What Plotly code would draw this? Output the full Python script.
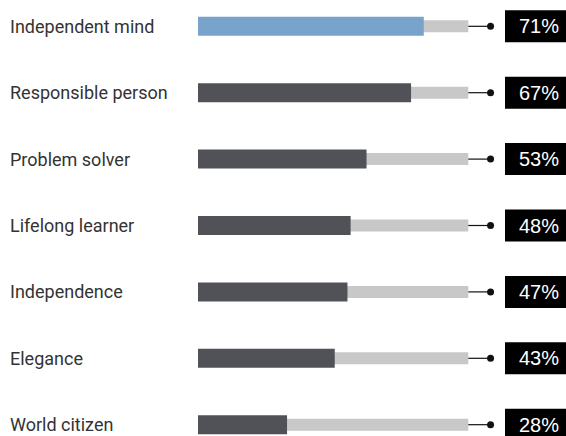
import plotly.graph_objects as go

categories = ["Independent mind", "Responsible person", "Problem solver", "Lifelong learner",
              "Independence", "Elegance", "World citizen"]
values = [71, 67, 53, 48, 47, 43, 28]
track_values = [85, 85, 85, 85, 85, 85, 85]
connector_end = [92, 92, 92, 92, 92, 92, 92]
pct_labels = ["71%", "67%", "53%", "48%", "47%", "43%", "28%"]

bar_colors = ["#78a3cb"] + ["#505257"] * (len(values) - 1)
yidx = list(range(len(categories)))

W, H = 566, 436
x0_px = 198.0
px_per_unit = 3.18
row0_px = 26.3
row_step = 66.4

xr = [-x0_px / px_per_unit, (W - x0_px) / px_per_unit]
yr = [(H - row0_px) / row_step, -row0_px / row_step]


def px_to_x(p):
    return (p - x0_px) / px_per_unit


fig = go.Figure()
# background track
fig.add_trace(go.Bar(x=track_values, y=yidx, orientation="h", width=12 / row_step,
                     marker=dict(color="#c8c8c8", line=dict(width=0)), hoverinfo="skip"))
# value bar
fig.add_trace(go.Bar(x=values, y=yidx, orientation="h", width=19 / row_step,
                     marker=dict(color=bar_colors, line=dict(width=0))))
# connector lines with dots
for i in yidx:
    fig.add_trace(go.Scatter(x=[track_values[i], connector_end[i]], y=[i, i], mode="lines",
                             line=dict(color="#111111", width=1.2), hoverinfo="skip"))
fig.add_trace(go.Scatter(x=connector_end, y=yidx, mode="markers",
                         marker=dict(color="#111111", size=7), hoverinfo="skip"))

label_x = px_to_x(8)
text_x = px_to_x(539)
half_box = 16 / row_step
for i, (cat, lab) in enumerate(zip(categories, pct_labels)):
    fig.add_annotation(x=label_x, y=i, text=cat, showarrow=False, xanchor="left", yanchor="middle",
                       font=dict(family="Roboto, Noto Sans, sans-serif", size=18, color="#333333"))
    fig.add_shape(type="rect", xref="x", yref="y", x0=px_to_x(505), x1=px_to_x(570),
                  y0=i - half_box, y1=i + half_box, fillcolor="#000000", line=dict(width=0),
                  layer="above")
    fig.add_annotation(x=text_x, y=i, text=lab, showarrow=False, xanchor="center", yanchor="middle",
                       font=dict(family="Liberation Sans, Arial, sans-serif", size=20, color="#ffffff"))

fig.update_layout(
    width=W, height=H, margin=dict(l=0, r=0, t=0, b=0),
    barmode="overlay", showlegend=False,
    plot_bgcolor="white", paper_bgcolor="white",
    xaxis=dict(range=xr, visible=False, fixedrange=True),
    yaxis=dict(range=yr, visible=False, fixedrange=True),
)
fig.write_html(
    "out.html",
    config={"displayModeBar": False},
    post_script="document.body.style.margin='0';document.body.style.overflow='hidden';"
                "document.documentElement.style.overflow='hidden';",
)
